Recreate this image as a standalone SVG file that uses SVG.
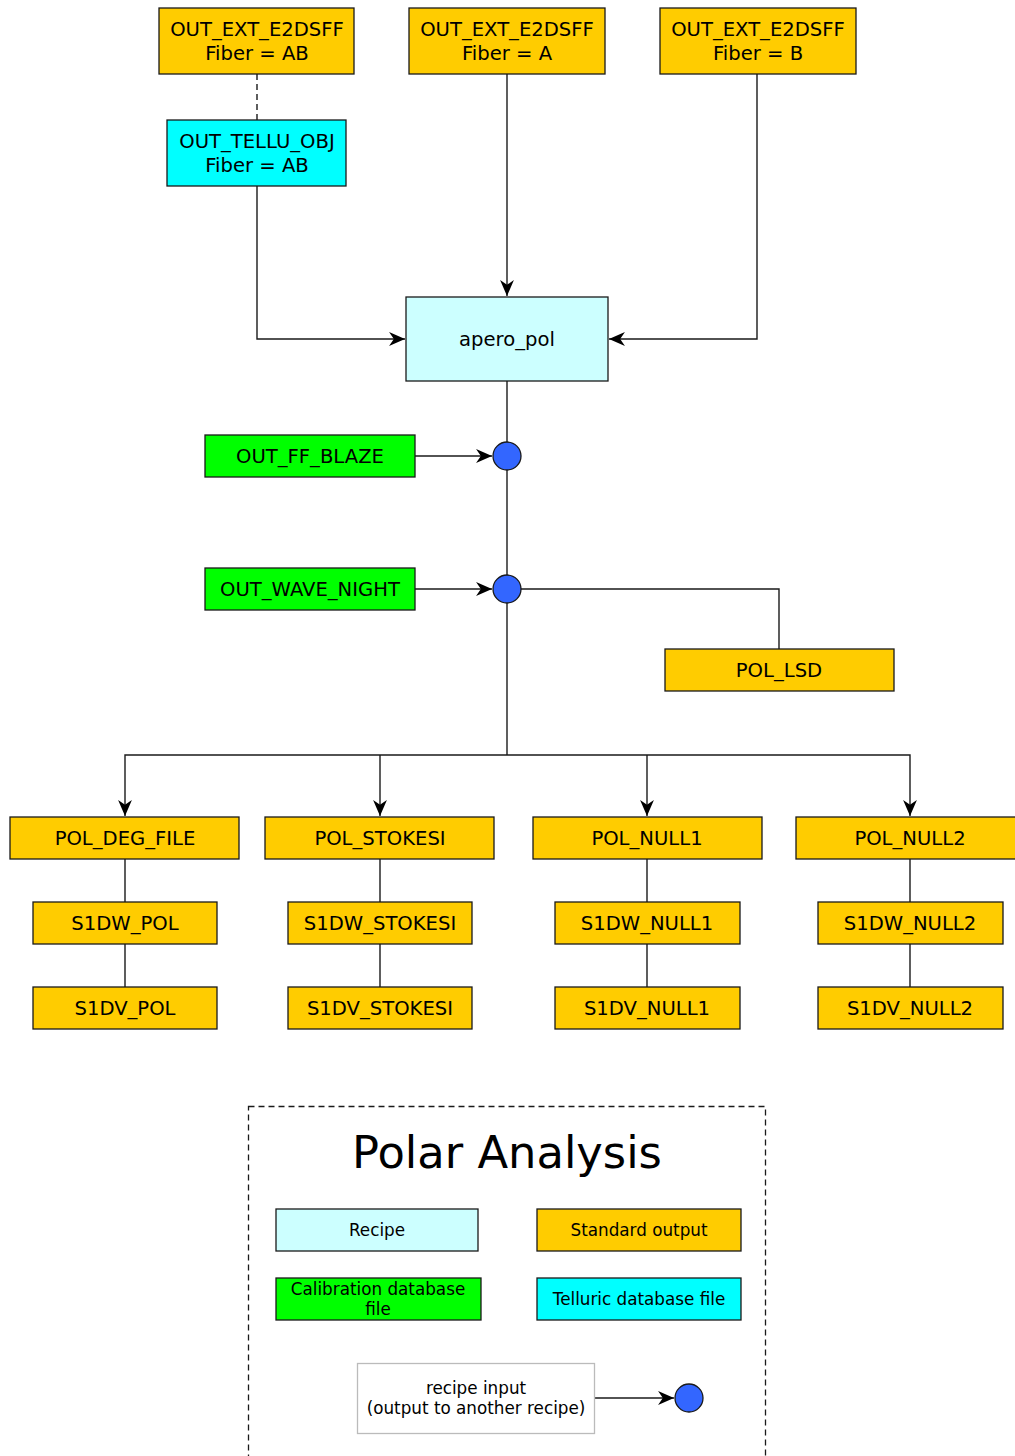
<svg xmlns="http://www.w3.org/2000/svg" width="1015" height="1456" viewBox="0 0 1015 1456">
<defs>
<style>
.n{stroke:#1a1a1a;stroke-width:1.3}
.o{fill:#ffcc00}
.t{fill:#00ffff}
.r{fill:#ccffff}
.g{fill:#00ff00}
.dot{fill:#3366ff;stroke:#1a1a1a;stroke-width:1.3}
text{font-family:"DejaVu Sans","Liberation Sans",sans-serif;fill:#000;text-anchor:middle}
.l{font-size:19.6px}
.s{font-size:16.8px}
.e{fill:none;stroke:#1a1a1a;stroke-width:1.4}
</style>
<marker id="a" markerUnits="userSpaceOnUse" markerWidth="17" markerHeight="15" viewBox="0 -7 16 14" refX="15" refY="0" orient="auto">
<path d="M0,-6.5 L15,0 L0,6.5 L4.5,0 z" fill="#000"/>
</marker>
</defs>
<rect width="1015" height="1456" fill="#fff"/>

<g id="connectors">
<path class="e" d="M257,74 V120" stroke-dasharray="6,4"/>
<path class="e" d="M257,186 V339 H405" marker-end="url(#a)"/>
<path class="e" d="M507,74 V296" marker-end="url(#a)"/>
<path class="e" d="M757,74 V339 H609" marker-end="url(#a)"/>
<path class="e" d="M507,381 V442"/>
<path class="e" d="M415,456 H492" marker-end="url(#a)"/>
<path class="e" d="M507,470 V575"/>
<path class="e" d="M415,589 H492" marker-end="url(#a)"/>
<path class="e" d="M521,589 H779 V649"/>
<path class="e" d="M507,603 V755"/>
<path class="e" d="M507,755 H125 V816" marker-end="url(#a)"/>
<path class="e" d="M380,755 V816" marker-end="url(#a)"/>
<path class="e" d="M507,755 H910 V816" marker-end="url(#a)"/>
<path class="e" d="M647,755 V816" marker-end="url(#a)"/>
<path class="e" d="M125,859 V902 M125,944 V987"/>
<path class="e" d="M380,859 V902 M380,944 V987"/>
<path class="e" d="M647,859 V902 M647,944 V987"/>
<path class="e" d="M910,859 V902 M910,944 V987"/>
<path class="e" d="M595,1398 H674" marker-end="url(#a)"/>
</g>

<g id="ext_ab"><rect class="n o" x="159" y="8" width="195" height="66"/><text class="l" x="257" y="36">OUT_EXT_E2DSFF</text><text class="l" x="257" y="60">Fiber = AB</text></g>
<g id="ext_a"><rect class="n o" x="409" y="8" width="196" height="66"/><text class="l" x="507" y="36">OUT_EXT_E2DSFF</text><text class="l" x="507" y="60">Fiber = A</text></g>
<g id="ext_b"><rect class="n o" x="660" y="8" width="196" height="66"/><text class="l" x="758" y="36">OUT_EXT_E2DSFF</text><text class="l" x="758" y="60">Fiber = B</text></g>
<g id="tellu"><rect class="n t" x="167" y="120" width="179" height="66"/><text class="l" x="257" y="148">OUT_TELLU_OBJ</text><text class="l" x="257" y="172">Fiber = AB</text></g>
<g id="apero_pol"><rect class="n r" x="406" y="297" width="202" height="84"/><text class="l" x="507" y="346">apero_pol</text></g>
<g id="ff_blaze"><rect class="n g" x="205" y="435" width="210" height="42"/><text class="l" x="310" y="463">OUT_FF_BLAZE</text></g>
<g id="c1"><circle class="dot" cx="507" cy="456" r="14"/></g>
<g id="wave_night"><rect class="n g" x="205" y="568" width="210" height="42"/><text class="l" x="310" y="596">OUT_WAVE_NIGHT</text></g>
<g id="c2"><circle class="dot" cx="507" cy="589" r="14"/></g>
<g id="pol_lsd"><rect class="n o" x="665" y="649" width="229" height="42"/><text class="l" x="779" y="677">POL_LSD</text></g>

<g id="pol_deg_file"><rect class="n o" x="10" y="817" width="229" height="42"/><text class="l" x="125" y="845">POL_DEG_FILE</text></g>
<g id="pol_stokesi"><rect class="n o" x="265" y="817" width="229" height="42"/><text class="l" x="380" y="845">POL_STOKESI</text></g>
<g id="pol_null1"><rect class="n o" x="533" y="817" width="229" height="42"/><text class="l" x="647" y="845">POL_NULL1</text></g>
<g id="pol_null2"><rect class="n o" x="796" y="817" width="229" height="42"/><text class="l" x="910" y="845">POL_NULL2</text></g>

<g id="s1dw_pol"><rect class="n o" x="33" y="902" width="184" height="42"/><text class="l" x="125" y="930">S1DW_POL</text></g>
<g id="s1dw_stokesi"><rect class="n o" x="288" y="902" width="184" height="42"/><text class="l" x="380" y="930">S1DW_STOKESI</text></g>
<g id="s1dw_null1"><rect class="n o" x="555" y="902" width="185" height="42"/><text class="l" x="647" y="930">S1DW_NULL1</text></g>
<g id="s1dw_null2"><rect class="n o" x="818" y="902" width="185" height="42"/><text class="l" x="910" y="930">S1DW_NULL2</text></g>

<g id="s1dv_pol"><rect class="n o" x="33" y="987" width="184" height="42"/><text class="l" x="125" y="1015">S1DV_POL</text></g>
<g id="s1dv_stokesi"><rect class="n o" x="288" y="987" width="184" height="42"/><text class="l" x="380" y="1015">S1DV_STOKESI</text></g>
<g id="s1dv_null1"><rect class="n o" x="555" y="987" width="185" height="42"/><text class="l" x="647" y="1015">S1DV_NULL1</text></g>
<g id="s1dv_null2"><rect class="n o" x="818" y="987" width="185" height="42"/><text class="l" x="910" y="1015">S1DV_NULL2</text></g>

<g id="legend">
<rect x="248.5" y="1106.5" width="517" height="360" fill="none" stroke="#1a1a1a" stroke-width="1.3" stroke-dasharray="6,4"/>
<text x="507" y="1168" style="font-size:44.8px">Polar Analysis</text>
<g id="leg_recipe"><rect class="n r" x="276" y="1209" width="202" height="42"/><text class="s" x="377" y="1236">Recipe</text></g>
<g id="leg_std"><rect class="n o" x="537" y="1209" width="204" height="42"/><text class="s" x="639" y="1236">Standard output</text></g>
<g id="leg_cal"><rect class="n g" x="276" y="1278" width="205" height="42"/><text class="s" x="378" y="1295">Calibration database</text><text class="s" x="378" y="1315">file</text></g>
<g id="leg_tel"><rect class="n t" x="537" y="1278" width="204" height="42"/><text class="s" x="639" y="1305">Telluric database file</text></g>
<g id="leg_input"><rect x="357.5" y="1363.5" width="237" height="70" fill="#fff" stroke="#bbbbbb" stroke-width="1.3"/><text class="s" x="476" y="1394">recipe input</text><text class="s" x="476" y="1414">(output to another recipe)</text></g>
<g id="leg_dot"><circle class="dot" cx="689" cy="1398" r="14"/></g>
</g>
</svg>
